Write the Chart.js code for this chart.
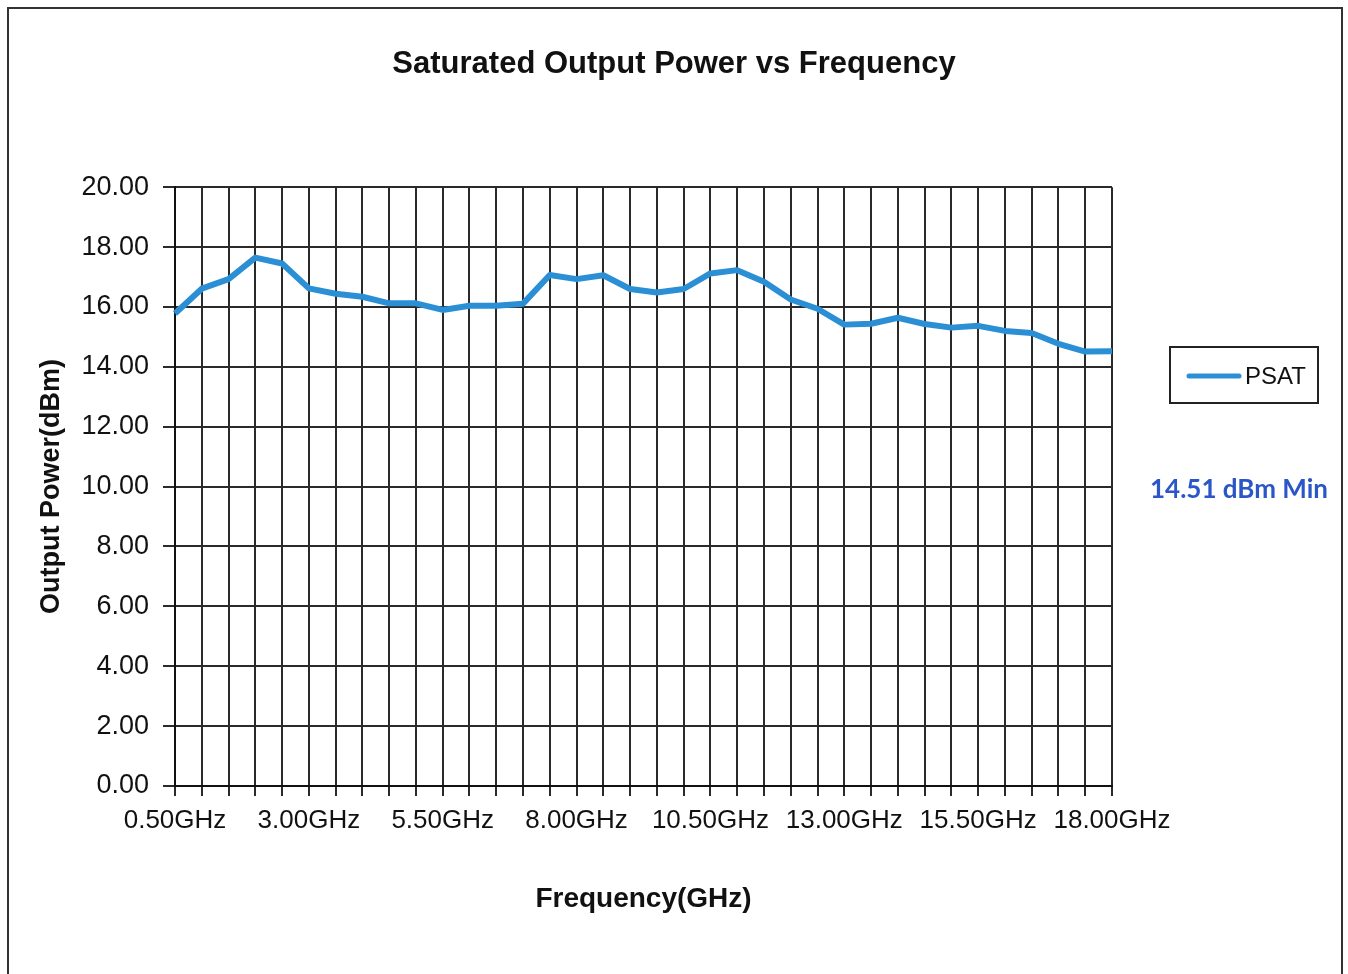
<!DOCTYPE html>
<html lang="en">
<head>
    <meta charset="UTF-8">
    <title>Saturated Output Power vs Frequency</title>
    <script src="https://cdn.jsdelivr.net/npm/chart.js"></script>
    <style>
        html, body {
            margin: 0;
            padding: 0;
            background: #ffffff;
        }
        #wrap {
            position: relative;
            width: 1348px;
            height: 974px;
        }
    </style>
</head>
<body>
    <div id="wrap">
        <canvas id="psatChart" width="1348" height="974"></canvas>
    </div>

    <script>
        // frequency points in GHz
        const freqGHz = [0.5, 1.0, 1.5, 2.0, 2.5, 3.0, 3.5, 4.0, 4.5, 5.0, 5.5, 6.0,
                         6.5, 7.0, 7.5, 8.0, 8.5, 9.0, 9.5, 10.0, 10.5, 11.0, 11.5, 12.0,
                         12.5, 13.0, 13.5, 14.0, 14.5, 15.0, 15.5, 16.0, 16.5, 17.0, 17.5, 18.0];

        // saturated output power, dBm
        const psat = [15.78, 16.61, 16.93, 17.65, 17.45, 16.62, 16.44, 16.34, 16.12, 16.12, 15.90, 16.04,
                      16.04, 16.11, 17.07, 16.93, 17.06, 16.60, 16.48, 16.60, 17.12, 17.23, 16.84, 16.25,
                      15.94, 15.41, 15.44, 15.64, 15.43, 15.31, 15.37, 15.20, 15.13, 14.77, 14.51, 14.52];

        const labelEvery = 5;
        const minNote = "14.51 dBm Min";
        const seriesName = "PSAT";
        const lineColor = "#2b8fd5";
        const gridColor = "#2a2a2a";
        const fontFamily = "'Liberation Sans', Arial, sans-serif";

        // outer frame, boxed legend and the min note
        const extras = {
            id: "extras",
            afterDraw(chart) {
                const ctx = chart.ctx;
                const ds = chart.data.datasets[0];
                ctx.save();

                ctx.strokeStyle = "#333";
                ctx.lineWidth = 2;
                ctx.strokeRect(8, 8, 1334, 1000);

                ctx.strokeStyle = "#222";
                ctx.lineWidth = 2;
                ctx.strokeRect(1170, 347, 148, 56);

                ctx.strokeStyle = ds.borderColor;
                ctx.lineWidth = 5;
                ctx.lineCap = "round";
                ctx.beginPath();
                ctx.moveTo(1189, 376);
                ctx.lineTo(1239, 376);
                ctx.stroke();

                ctx.fillStyle = "#111";
                ctx.font = "24px " + fontFamily;
                ctx.textAlign = "left";
                ctx.textBaseline = "middle";
                ctx.fillText(ds.label, 1245, 377);

                ctx.fillStyle = "#2a56c6";
                ctx.font = "bold 26px Lato, 'Open Sans', sans-serif";
                ctx.fillText(minNote, 1150, 490);

                ctx.restore();
            }
        };

        new Chart(document.getElementById("psatChart"), {
            type: "line",
            data: {
                labels: freqGHz.map(f => f.toFixed(2) + "GHz"),
                datasets: [{
                    label: seriesName,
                    data: psat,
                    borderColor: lineColor,
                    backgroundColor: lineColor,
                    borderWidth: 6,
                    pointRadius: 0,
                    tension: 0,
                    borderJoinStyle: "round"
                }]
            },
            options: {
                responsive: false,
                animation: false,
                devicePixelRatio: 1,
                layout: { padding: { left: 0, right: 0, top: 46, bottom: 0 } },
                plugins: {
                    legend: { display: false },
                    tooltip: { enabled: false },
                    title: {
                        display: true,
                        text: "Saturated Output Power vs Frequency",
                        color: "#111",
                        font: { family: fontFamily, size: 31, weight: "bold" },
                        padding: { top: 0, bottom: 104 }
                    }
                },
                scales: {
                    x: {
                        afterFit: s => { s.height = 974 - 786; },
                        grid: { color: gridColor, lineWidth: 2, tickLength: 10, tickColor: gridColor },
                        border: { color: "#111", width: 2 },
                        ticks: {
                            autoSkip: false,
                            maxRotation: 0,
                            padding: 9,
                            color: "#111",
                            font: { family: fontFamily, size: 26 },
                            callback: function (v, i) {
                                return i % labelEvery === 0 ? this.getLabelForValue(v) : "";
                            }
                        },
                        title: {
                            display: true,
                            text: "Frequency(GHz)",
                            color: "#111",
                            font: { family: fontFamily, size: 28, weight: "bold" },
                            padding: { top: 0, bottom: 58 }
                        }
                    },
                    y: {
                        min: 0,
                        max: 20,
                        afterFit: s => { s.width = 175; },
                        grid: { color: gridColor, lineWidth: 2, tickLength: 12, tickColor: gridColor },
                        border: { color: "#111", width: 2 },
                        ticks: {
                            stepSize: 2,
                            padding: 14,
                            color: "#111",
                            font: { family: fontFamily, size: 27 },
                            callback: v => v.toFixed(2)
                        },
                        title: {
                            display: true,
                            text: "Output Power(dBm)",
                            color: "#111",
                            font: { family: fontFamily, size: 27, weight: "bold" },
                            padding: { top: 35, bottom: 0 }
                        }
                    },
                    // empty right-hand band that holds the legend area
                    side: {
                        position: "right",
                        display: true,
                        afterFit: s => { s.width = 1348 - 1112; },
                        grid: { display: false },
                        border: { display: false },
                        ticks: { display: false }
                    }
                }
            },
            plugins: [extras]
        });
    </script>
</body>
</html>
